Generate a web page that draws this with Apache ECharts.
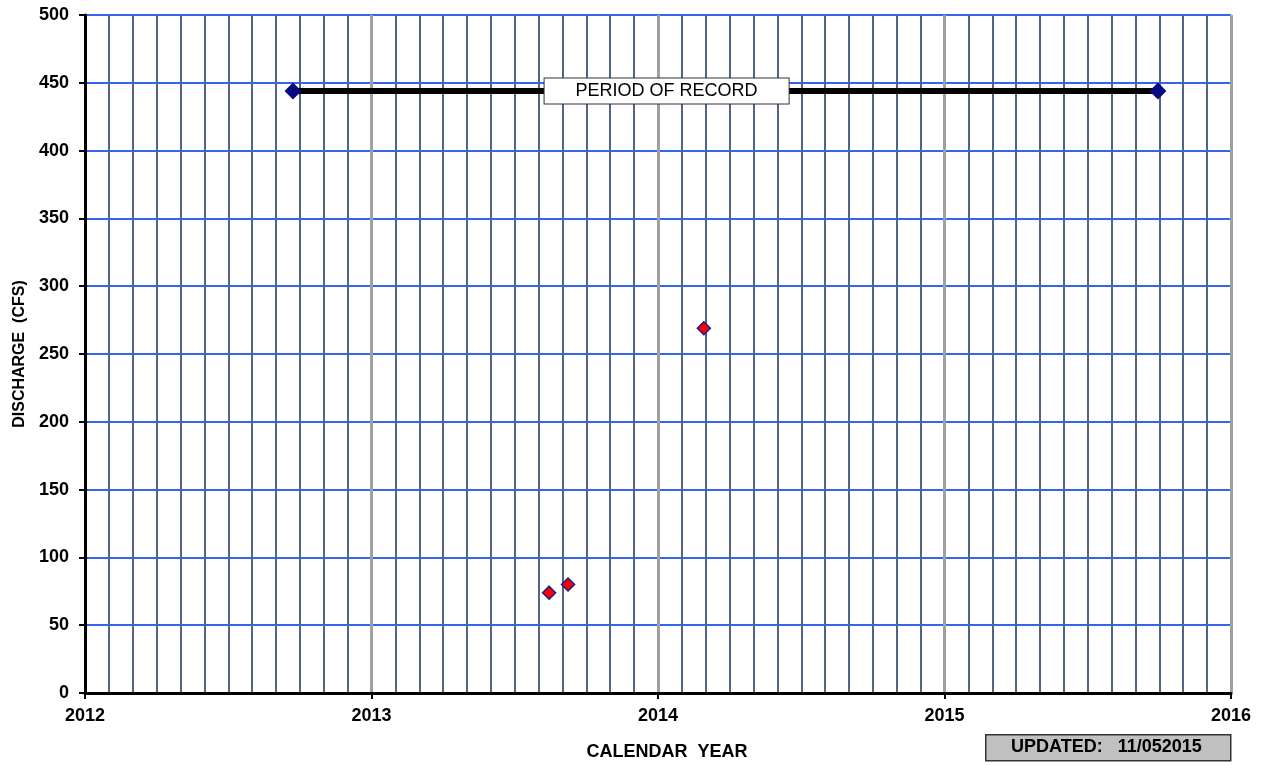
<!DOCTYPE html>
<html>
<head>
<meta charset="utf-8">
<script src="https://cdn.jsdelivr.net/npm/echarts@6/dist/echarts.min.js"></script>
<style>
html,body{margin:0;padding:0;background:#fff;}
#chart{width:1266px;height:765px;}
</style>
</head>
<body>
<div id="chart"></div>
<script>
// Data
const recordPeriod = [[2012.726, 444], [2015.745, 444]];
const recordLabelPos = [[2014.03, 444]];
const measurements = [[2013.62, 74], [2013.686, 80], [2014.16, 269]];
const xRange = [2012, 2016];
const yRange = [0, 500];
const titleX = 'CALENDAR  YEAR';
const titleY = 'DISCHARGE  (CFS)';
const updatedText = 'UPDATED:   11/052015';

const chart = echarts.init(document.getElementById('chart'));
const font = 'Liberation Sans, Arial, sans-serif';
chart.setOption({
  animation: false,
  grid: {left: 85, right: 35, top: 15, bottom: 72, containLabel: false, outerBoundsMode: 'none'},
  xAxis: {
    type: 'value', min: xRange[0], max: xRange[1], interval: 1,
    name: titleX, nameLocation: 'middle', nameGap: 50,
    nameTextStyle: {fontFamily: font, fontWeight: 'bold', fontSize: 18, color: '#000', padding: [0, 0, 0, 18]},
    axisLine: {show: true, onZero: false, lineStyle: {color: '#000', width: 3}},
    axisTick: {show: true, length: 6, lineStyle: {color: '#000', width: 2}},
    axisLabel: {fontFamily: font, fontWeight: 'bold', fontSize: 18, color: '#000', margin: 14, formatter: v => String(v)},
    splitLine: {show: true, lineStyle: {color: '#a0a0a0', width: 3}},
    minorTick: {show: false, splitNumber: 12},
    minorSplitLine: {show: true, lineStyle: {color: '#4f6585', width: 2}}
  },
  yAxis: {
    type: 'value', min: yRange[0], max: yRange[1], interval: 50,
    name: titleY, nameLocation: 'middle', nameGap: 57, nameRotate: 90,
    nameTextStyle: {fontFamily: font, fontWeight: 'bold', fontSize: 16, color: '#000'},
    axisLine: {show: true, lineStyle: {color: '#000', width: 3}},
    axisTick: {show: true, length: 6, lineStyle: {color: '#000', width: 2}},
    axisLabel: {fontFamily: font, fontWeight: 'bold', fontSize: 18, color: '#000', margin: 16},
    splitLine: {show: true, lineStyle: {color: '#3366ee', width: 2}}
  },
  graphic: [
    {type: 'rect', left: 985, top: 734, shape: {width: 245, height: 26},
     style: {fill: '#c0c0c0', stroke: '#333', lineWidth: 1.5}, z: 10},
    {type: 'text', left: 1011, top: 738, z: 11,
     style: {text: updatedText, fontFamily: font, fontWeight: 'bold', fontSize: 18, fill: '#000'}}
  ],
  series: [
    {
      type: 'line', data: recordPeriod, symbol: 'diamond', symbolSize: 17,
      showSymbol: true,
      lineStyle: {color: '#000', width: 6},
      itemStyle: {color: '#0a0a80', opacity: 1}, z: 3
    },
    {
      type: 'scatter', data: recordLabelPos, symbolSize: 0, z: 5,
      itemStyle: {opacity: 1},
      label: {show: true, position: 'inside', formatter: 'PERIOD OF RECORD',
        fontFamily: font, fontSize: 18, color: '#000', backgroundColor: '#fff',
        borderColor: '#333', borderWidth: 1, padding: [4, 31, 3, 31]}
    },
    {
      type: 'scatter', data: measurements, symbol: 'diamond', symbolSize: 13,
      itemStyle: {color: '#ff0000', borderColor: '#1a1a90', borderWidth: 1.5, opacity: 1}, z: 4
    }
  ]
});
</script>
</body>
</html>
